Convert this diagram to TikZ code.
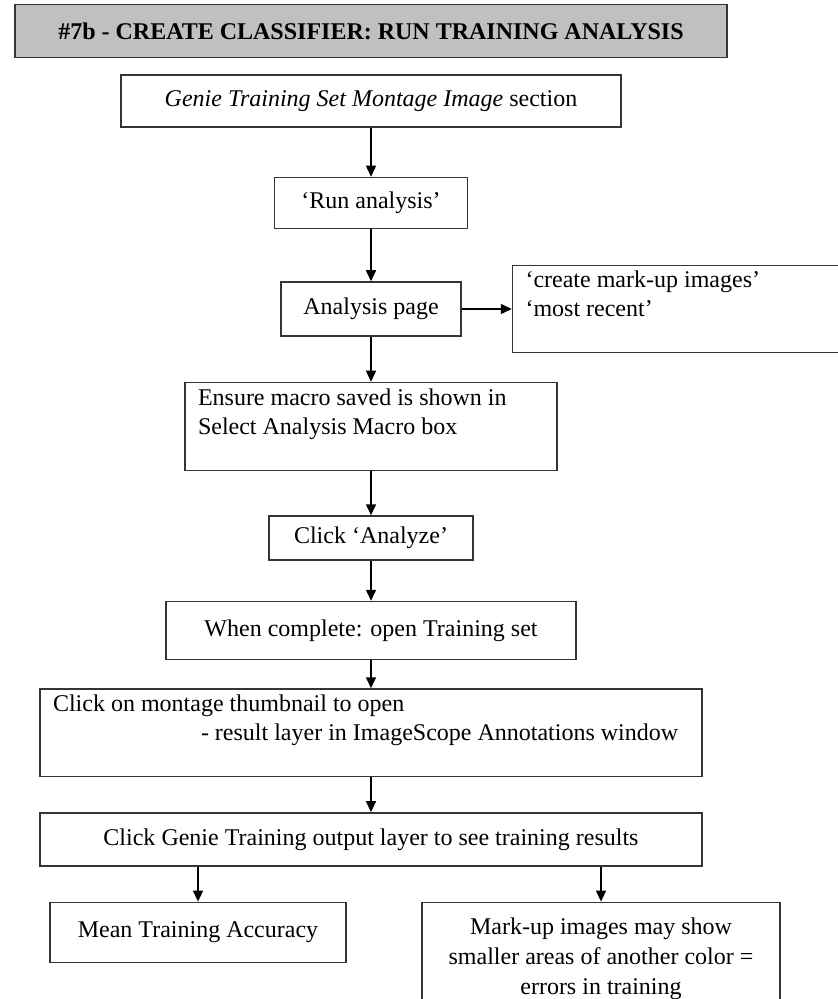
\documentclass[tikz,border=0pt]{standalone}
\usepackage{fontspec}
\setmainfont{Liberation Serif}
\usepackage{xcolor}
\usetikzlibrary{arrows.meta,positioning}
\definecolor{headgray}{HTML}{C0C0C0}
\definecolor{edgegray}{HTML}{353535}

\begin{document}
\begin{tikzpicture}[
  x=0.5pt, y=-0.5pt,
  node distance=24pt,
  box/.style={draw=edgegray, line width=0.75pt, align=center, font=\fontsize{12}{14.5}\selectfont, inner sep=3pt},
  headbox/.style={box, fill=headgray, font=\bfseries\fontsize{12}{14.5}\selectfont},
  leftbox/.style={box, align=flush left, inner xsep=6.5pt},
  ar/.style={-{Triangle[length=5.5pt, width=5pt]}, line width=0.75pt}]
  \useasboundingbox (0,0) rectangle (838,999);
  \fill[white] (0,0) rectangle (838,999);
  \node[box, minimum width=250pt, minimum height=26pt] (genie) at (371,101) {\textit{Genie Training Set Montage Image} section};
  \node[headbox, above=8pt of genie, minimum width=356pt, minimum height=26.5pt] (head) {\#7b - CREATE CLASSIFIER: RUN TRAINING ANALYSIS};
  \node[box, below=24.5pt of genie, minimum width=96.5pt, minimum height=25.5pt] (run) {‘Run analysis’};
  \node[box, below=26pt of run, minimum width=90pt, minimum height=27pt] (page) {Analysis page};
  \node[leftbox, right=25pt of page, text width=181pt, minimum height=43pt] (recent) {‘create mark-up images’\\‘most recent’\\[-4pt]\strut};
  \node[leftbox, below=22.5pt of page, text width=173pt, minimum height=44pt] (ensure) {Ensure macro saved is shown in\\Select Analysis Macro box\\[-4pt]\strut};
  \node[box, below=22pt of ensure, minimum width=102pt, minimum height=22pt] (analyze) {Click ‘Analyze’};
  \node[box, below=20pt of analyze, minimum width=205pt, minimum height=29pt] (complete) {When complete: open Training set};
  \node[leftbox, below=14pt of complete, text width=318pt, minimum height=43pt] (montage) {Click on montage thumbnail to open\\\hspace*{74pt}- result layer in ImageScope Annotations window\\[-4pt]\strut};
  \node[box, below=17.5pt of montage, minimum width=331pt, minimum height=26.5pt] (output) {Click Genie Training output layer to see training results};
  \node[box, below right=17.5pt and 5pt of output.south west, minimum width=148pt, minimum height=30pt] (mean) {Mean Training Accuracy};
  \node[box, below right=17.5pt and 191pt of output.south west, minimum width=179pt, minimum height=56.5pt, font=\fontsize{12}{15}\selectfont] (markup) {Mark-up images may show\\smaller areas of another color =\\errors in training};
  \draw[ar] (genie) -- (run);
  \draw[ar] (run) -- (page);
  \draw[ar] (page) -- (recent);
  \draw[ar] (page) -- (ensure);
  \draw[ar] (ensure) -- (analyze);
  \draw[ar] (analyze) -- (complete);
  \draw[ar] (complete) -- (montage);
  \draw[ar] (montage) -- (output);
  \draw[ar] (output.south -| mean.north) -- (mean.north);
  \draw[ar] (output.south -| markup.north) -- (markup.north);
\end{tikzpicture}
\end{document}
